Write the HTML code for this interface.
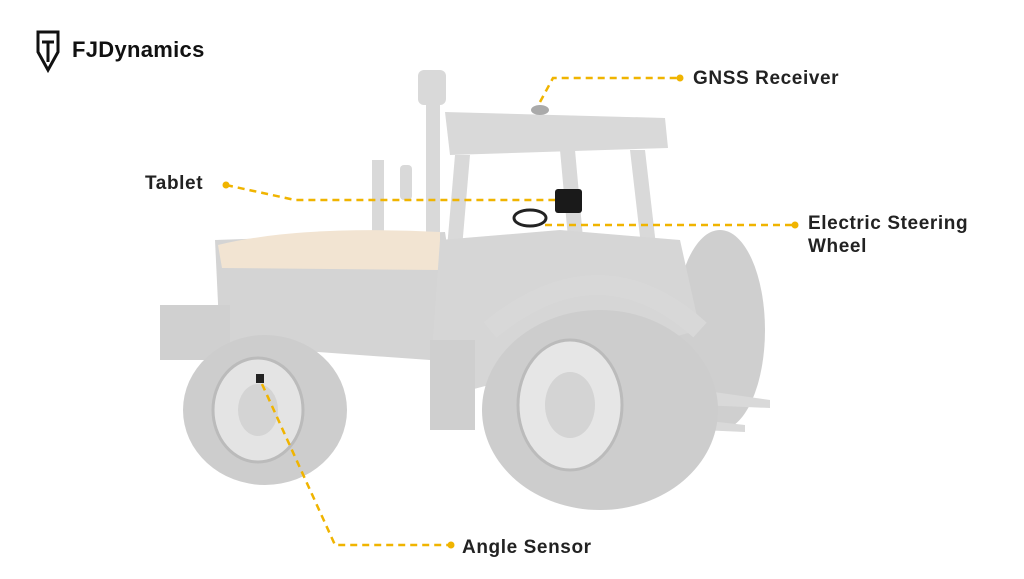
<!DOCTYPE html>
<html><head><style>
body{margin:0;width:1024px;height:574px;background:#fff;overflow:hidden;font-family:"Liberation Sans",sans-serif}
</style></head><body>
<svg width="1024" height="574" viewBox="0 0 1024 574" xmlns="http://www.w3.org/2000/svg">
<!-- logo -->
<path d="M38 32 L58 32 L58 52 L48 70 L38 52 Z" fill="none" stroke="#111" stroke-width="3"/>
<path d="M42 42 L54 42 M48 42 L48 62" stroke="#111" stroke-width="3" fill="none"/>
<text x="72" y="57" font-size="22" font-weight="bold" fill="#111" letter-spacing="0.3" font-family="Liberation Sans,sans-serif">FJDynamics</text>
<!-- tractor -->
<g fill="#d9d9d9">
<ellipse cx="720" cy="330" rx="45" ry="100" fill="#cfcfcf"/>
<rect x="418" y="70" width="28" height="35" rx="6"/>
<rect x="426" y="100" width="14" height="150"/>
<path d="M445 112 L665 118 L668 148 L450 155 Z"/>
<path d="M455 155 L470 155 L455 330 L440 330 Z"/>
<path d="M630 150 L645 150 L660 280 L645 280 Z"/>
<path d="M560 150 L575 150 L585 260 L570 260 Z"/>
<rect x="400" y="165" width="12" height="35" rx="4"/>
<rect x="372" y="160" width="12" height="170"/>
<path d="M215 240 L445 232 L460 330 L430 360 L220 345 Z" fill="#d4d4d4"/>
<path d="M218 245 Q300 225 440 232 L440 270 L222 268 Z" fill="#f2e4d2"/>
<rect x="160" y="305" width="70" height="55" fill="#d0d0d0"/>
<path d="M440 240 L560 230 L680 240 L700 330 L470 390 L430 380 Z" fill="#d6d6d6"/>
<rect x="430" y="340" width="45" height="90" fill="#cfcfcf"/>
<path d="M700 390 L770 400 L770 408 L700 405 Z"/>
<path d="M700 420 L745 425 L745 432 L700 430 Z"/>
</g>
<ellipse cx="265" cy="410" rx="82" ry="75" fill="#cdcdcd"/>
<ellipse cx="258" cy="410" rx="45" ry="52" fill="#e4e4e4" stroke="#bbb" stroke-width="3"/>
<ellipse cx="258" cy="410" rx="20" ry="26" fill="#d4d4d4"/>
<ellipse cx="600" cy="410" rx="118" ry="100" fill="#cdcdcd"/>
<ellipse cx="570" cy="405" rx="52" ry="65" fill="#e6e6e6" stroke="#bbb" stroke-width="3"/>
<ellipse cx="570" cy="405" rx="25" ry="33" fill="#d4d4d4"/>
<path d="M490 330 Q600 240 700 330" fill="none" stroke="#d8d8d8" stroke-width="20"/>
<!-- devices -->
<ellipse cx="540" cy="110" rx="9" ry="5" fill="#aaa"/>
<rect x="555" y="189" width="27" height="24" rx="3" fill="#1a1a1a"/>
<ellipse cx="530" cy="218" rx="16" ry="8" fill="none" stroke="#222" stroke-width="3"/>
<rect x="256" y="374" width="8" height="9" fill="#222"/>
<!-- callouts -->
<g stroke="#f0b400" stroke-width="2.5" stroke-dasharray="7,5" fill="none">
<path d="M540 102 L553 78 L680 78"/>
<path d="M226 185 L295 200 L555 200"/>
<path d="M545 225 L795 225"/>
<path d="M262 384 L335 545 L450 545"/>
</g>
<g fill="#f0b400">
<circle cx="680" cy="78" r="3.5"/><circle cx="226" cy="185" r="3.5"/>
<circle cx="795" cy="225" r="3.5"/><circle cx="451" cy="545" r="3.5"/>
</g>
<g font-size="19" font-weight="bold" fill="#222" letter-spacing="0.6">
<text x="693" y="84">GNSS Receiver</text>
<text x="145" y="189">Tablet</text>
<text x="808" y="229">Electric Steering</text>
<text x="808" y="252">Wheel</text>
<text x="462" y="553">Angle Sensor</text>
</g>
</svg>
</body></html>
